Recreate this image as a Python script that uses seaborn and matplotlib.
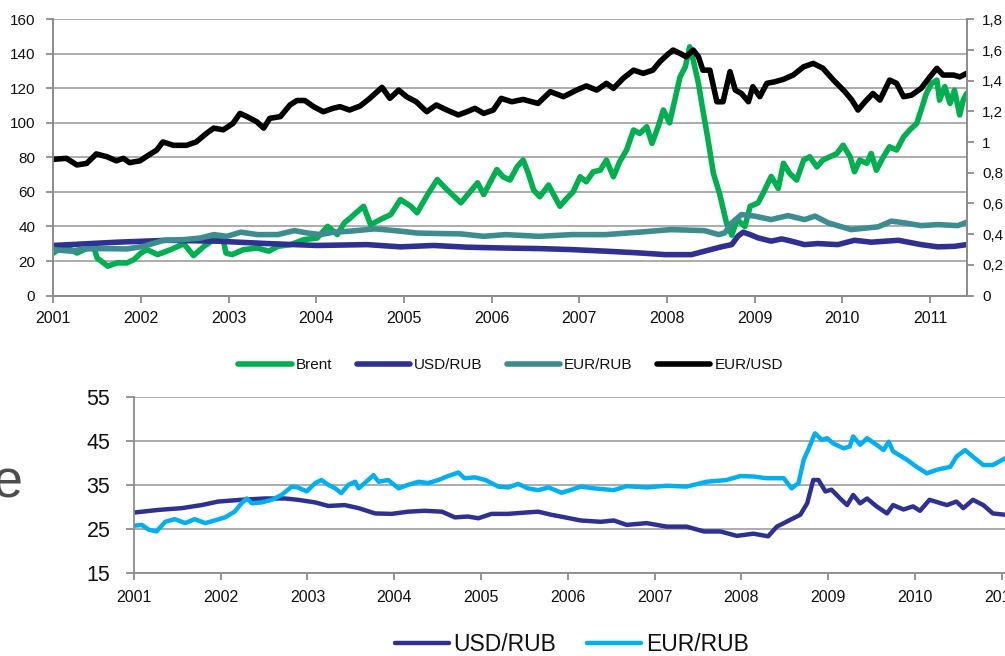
import numpy as np
import pandas as pd
import seaborn as sns
import matplotlib.pyplot as plt
from matplotlib.ticker import FuncFormatter

# ---- top panel data (decimal years) ----
brent_t = [2001.00, 2001.12, 2001.27, 2001.39, 2001.46, 2001.50, 2001.62, 2001.73, 2001.84, 2001.92,
           2002.00, 2002.07, 2002.19, 2002.34, 2002.49, 2002.60, 2002.72, 2002.83, 2002.93, 2002.97,
           2003.04, 2003.17, 2003.33, 2003.46, 2003.56, 2003.71, 2003.86, 2004.01, 2004.13, 2004.24,
           2004.32, 2004.39, 2004.43, 2004.54, 2004.62, 2004.73, 2004.85, 2004.96, 2005.08, 2005.15,
           2005.27, 2005.38, 2005.49, 2005.65, 2005.84, 2005.91, 2006.06, 2006.13, 2006.21, 2006.29,
           2006.36, 2006.42, 2006.48, 2006.55, 2006.65, 2006.70, 2006.78, 2006.84, 2006.93, 2007.01,
           2007.08, 2007.16, 2007.24, 2007.31, 2007.39, 2007.46, 2007.54, 2007.62, 2007.69, 2007.77,
           2007.83, 2007.90, 2007.96, 2008.03, 2008.09, 2008.15, 2008.21, 2008.26, 2008.30, 2008.36,
           2008.41, 2008.47, 2008.53, 2008.60, 2008.68, 2008.74, 2008.80, 2008.89, 2008.95, 2009.04,
           2009.10, 2009.19, 2009.27, 2009.33, 2009.40, 2009.48, 2009.56, 2009.63, 2009.71, 2009.78,
           2009.86, 2009.94, 2010.01, 2010.09, 2010.14, 2010.20, 2010.28, 2010.33, 2010.39, 2010.47,
           2010.54, 2010.62, 2010.70, 2010.77, 2010.85, 2010.90, 2010.96, 2011.02, 2011.08, 2011.11,
           2011.17, 2011.23, 2011.28, 2011.34, 2011.38, 2011.42]
brent = [24.5, 29.0, 24.6, 27.5, 28.5, 21.8, 17.0, 18.9, 18.9, 20.8,
         24.6, 26.6, 23.7, 26.6, 30.0, 23.1, 28.5, 32.4, 34.3, 24.6,
         23.7, 26.6, 27.5, 25.7, 28.5, 29.5, 32.4, 33.3, 40.1, 35.3,
         42.1, 45.0, 46.9, 51.7, 41.0, 44.0, 46.9, 55.6, 51.7, 47.9,
         58.5, 67.2, 61.4, 53.7, 65.3, 58.5, 73.0, 68.8, 66.9, 74.5,
         78.5, 70.7, 61.1, 57.2, 64.0, 59.2, 51.7, 55.3, 60.1, 68.8,
         65.9, 71.7, 72.6, 78.5, 68.8, 77.4, 84.3, 95.9, 93.9, 97.8,
         88.1, 97.8, 107.5, 100.0, 113.2, 126.7, 132.5, 144.1, 136.4, 122.9,
         107.5, 90.1, 70.8, 59.2, 42.0, 35.0, 44.0, 40.0, 51.7, 53.7,
         59.5, 69.0, 62.0, 76.6, 70.8, 66.9, 78.5, 80.4, 74.5, 78.5,
         80.4, 82.3, 87.1, 80.4, 71.7, 78.5, 76.6, 82.3, 72.6, 80.4,
         86.2, 84.3, 91.9, 95.9, 99.7, 107.5, 117.1, 122.9, 124.8, 113.2,
         121.0, 111.3, 119.0, 104.6, 113.2, 117.1]

usdrub_t = [2001.00, 2001.73, 2002.30, 2002.87, 2003.44, 2004.01, 2004.58, 2004.96, 2005.34, 2005.72,
            2006.16, 2006.54, 2006.92, 2007.30, 2007.68, 2007.98, 2008.28, 2008.43, 2008.62, 2008.74,
            2008.81, 2008.87, 2008.95, 2009.04, 2009.19, 2009.31, 2009.42, 2009.57, 2009.72, 2009.95,
            2010.14, 2010.33, 2010.64, 2010.90, 2011.09, 2011.28, 2011.42]
usdrub = [29.0, 30.9, 32.0, 31.5, 30.1, 29.0, 29.5, 28.2, 29.0, 28.0,
          27.5, 27.2, 26.6, 25.7, 24.7, 23.7, 23.7, 25.7, 28.2, 29.5,
          34.4, 36.7, 35.3, 33.4, 31.5, 32.8, 31.5, 29.5, 30.1, 29.5,
          32.0, 30.9, 32.0, 29.5, 28.2, 28.5, 29.5]

eurrub_t = [2001.00, 2001.20, 2001.35, 2001.54, 2001.84, 2002.03, 2002.26, 2002.49, 2002.68, 2002.83,
            2002.98, 2003.14, 2003.33, 2003.56, 2003.75, 2003.90, 2004.05, 2004.20, 2004.39, 2004.66,
            2004.77, 2004.96, 2005.15, 2005.42, 2005.65, 2005.91, 2006.16, 2006.54, 2006.92, 2007.30,
            2007.68, 2008.05, 2008.43, 2008.59, 2008.66, 2008.74, 2008.85, 2009.00, 2009.19, 2009.38,
            2009.57, 2009.69, 2009.84, 2010.10, 2010.41, 2010.56, 2010.71, 2010.90, 2011.09, 2011.32,
            2011.42]
eurrub = [26.6, 25.7, 27.0, 27.2, 27.0, 28.5, 32.0, 32.4, 33.3, 35.3,
          34.3, 36.7, 35.3, 35.3, 37.6, 36.2, 35.3, 36.7, 37.3, 38.6,
          38.2, 37.3, 36.2, 35.9, 35.7, 34.3, 35.3, 34.3, 35.3, 35.3,
          36.7, 38.2, 37.6, 35.3, 36.3, 42.1, 46.9, 46.0, 44.0, 46.3,
          44.0, 46.0, 42.1, 38.2, 39.8, 43.1, 42.1, 40.5, 41.1, 40.5,
          42.5]

eurusd_t = [2001.00, 2001.15, 2001.27, 2001.38, 2001.46, 2001.49, 2001.61, 2001.72, 2001.80, 2001.87,
            2001.99, 2002.06, 2002.18, 2002.25, 2002.37, 2002.52, 2002.63, 2002.75, 2002.83, 2002.94,
            2003.05, 2003.13, 2003.21, 2003.32, 2003.40, 2003.47, 2003.59, 2003.70, 2003.78, 2003.87,
            2003.97, 2004.08, 2004.19, 2004.27, 2004.38, 2004.50, 2004.61, 2004.75, 2004.84, 2004.94,
            2005.03, 2005.14, 2005.26, 2005.37, 2005.49, 2005.62, 2005.72, 2005.81, 2005.91, 2006.02,
            2006.11, 2006.23, 2006.36, 2006.53, 2006.67, 2006.82, 2006.97, 2007.08, 2007.20, 2007.31,
            2007.39, 2007.50, 2007.62, 2007.73, 2007.84, 2007.92, 2008.00, 2008.07, 2008.15, 2008.22,
            2008.30, 2008.36, 2008.41, 2008.49, 2008.57, 2008.64, 2008.72, 2008.78, 2008.85, 2008.93,
            2008.98, 2009.06, 2009.14, 2009.23, 2009.33, 2009.44, 2009.56, 2009.67, 2009.78, 2009.90,
            2010.03, 2010.11, 2010.18, 2010.26, 2010.35, 2010.43, 2010.54, 2010.62, 2010.70, 2010.79,
            2010.90, 2011.00, 2011.08, 2011.15, 2011.27, 2011.34, 2011.42]
eurusd = [0.888, 0.894, 0.851, 0.861, 0.905, 0.923, 0.905, 0.878, 0.894, 0.866,
          0.878, 0.905, 0.948, 1.001, 0.979, 0.979, 1.001, 1.058, 1.091, 1.080,
          1.122, 1.187, 1.166, 1.133, 1.091, 1.155, 1.166, 1.242, 1.271, 1.271,
          1.231, 1.198, 1.220, 1.231, 1.209, 1.235, 1.285, 1.357, 1.285, 1.339,
          1.296, 1.263, 1.198, 1.242, 1.209, 1.177, 1.198, 1.220, 1.187, 1.209,
          1.285, 1.263, 1.278, 1.252, 1.329, 1.296, 1.339, 1.366, 1.339, 1.383,
          1.350, 1.415, 1.469, 1.448, 1.469, 1.524, 1.567, 1.600, 1.578, 1.556,
          1.600, 1.556, 1.469, 1.469, 1.263, 1.263, 1.459, 1.339, 1.317, 1.263,
          1.361, 1.296, 1.383, 1.393, 1.409, 1.437, 1.491, 1.513, 1.481, 1.404,
          1.329, 1.274, 1.209, 1.263, 1.317, 1.274, 1.404, 1.383, 1.296, 1.306,
          1.350, 1.425, 1.481, 1.437, 1.437, 1.425, 1.448]

# ---- bottom panel data ----
b_usd_t = [2001.00, 2001.28, 2001.55, 2001.78, 2001.97, 2002.24, 2002.51, 2002.74, 2002.89, 2003.09,
           2003.24, 2003.43, 2003.59, 2003.78, 2003.97, 2004.16, 2004.35, 2004.55, 2004.70, 2004.85,
           2004.97, 2005.12, 2005.31, 2005.51, 2005.66, 2005.81, 2005.97, 2006.15, 2006.38, 2006.53,
           2006.68, 2006.91, 2007.14, 2007.37, 2007.57, 2007.76, 2007.95, 2008.14, 2008.31, 2008.41,
           2008.56, 2008.68, 2008.76, 2008.83, 2008.89, 2008.97, 2009.04, 2009.14, 2009.22, 2009.29,
           2009.37, 2009.45, 2009.56, 2009.68, 2009.75, 2009.87, 2009.98, 2010.06, 2010.17, 2010.37,
           2010.48, 2010.56, 2010.67, 2010.79, 2010.90, 2011.04, 2011.10]
b_usd = [28.8, 29.4, 29.8, 30.5, 31.3, 31.7, 32.0, 32.0, 31.7, 31.1,
         30.3, 30.5, 29.8, 28.6, 28.5, 29.0, 29.2, 29.0, 27.7, 27.9,
         27.5, 28.5, 28.5, 28.8, 29.0, 28.3, 27.7, 27.0, 26.7, 27.0,
         26.0, 26.4, 25.6, 25.6, 24.5, 24.5, 23.5, 24.0, 23.4, 25.6,
         27.1, 28.3, 30.9, 36.2, 36.2, 33.6, 34.0, 32.0, 30.5, 32.8,
         30.9, 32.0, 30.2, 28.6, 30.5, 29.5, 30.2, 29.2, 31.7, 30.5,
         31.3, 29.8, 31.7, 30.5, 28.6, 28.3, 28.2]

b_eur_t = [2001.00, 2001.09, 2001.17, 2001.26, 2001.36, 2001.47, 2001.59, 2001.70, 2001.82, 2001.93,
           2002.05, 2002.16, 2002.24, 2002.30, 2002.36, 2002.47, 2002.59, 2002.70, 2002.82, 2002.89,
           2002.99, 2003.09, 2003.16, 2003.24, 2003.32, 2003.39, 2003.47, 2003.55, 2003.59, 2003.66,
           2003.76, 2003.82, 2003.93, 2004.05, 2004.16, 2004.28, 2004.39, 2004.51, 2004.62, 2004.74,
           2004.81, 2004.93, 2005.05, 2005.20, 2005.31, 2005.43, 2005.54, 2005.66, 2005.78, 2005.93,
           2006.03, 2006.15, 2006.30, 2006.53, 2006.68, 2006.91, 2007.14, 2007.37, 2007.60, 2007.83,
           2007.99, 2008.14, 2008.29, 2008.49, 2008.58, 2008.66, 2008.72, 2008.77, 2008.85, 2008.93,
           2008.99, 2009.06, 2009.18, 2009.25, 2009.29, 2009.37, 2009.45, 2009.56, 2009.64, 2009.70,
           2009.75, 2009.91, 2010.02, 2010.14, 2010.25, 2010.41, 2010.48, 2010.58, 2010.67, 2010.79,
           2010.90, 2011.04, 2011.10]
b_eur = [25.8, 26.0, 24.9, 24.5, 26.7, 27.3, 26.4, 27.3, 26.4, 27.0,
         27.7, 29.0, 30.9, 32.0, 30.9, 31.1, 31.7, 32.8, 34.7, 34.5,
         33.6, 35.5, 36.2, 35.1, 34.3, 33.2, 35.1, 35.8, 34.3, 35.5,
         37.3, 35.8, 36.2, 34.3, 35.1, 35.8, 35.5, 36.2, 37.1, 37.9,
         36.6, 36.8, 36.2, 34.7, 34.5, 35.3, 34.3, 33.9, 34.5, 33.3,
         33.9, 34.7, 34.3, 33.9, 34.8, 34.5, 34.9, 34.7, 35.8, 36.2,
         37.1, 37.0, 36.6, 36.6, 34.3, 35.5, 40.8, 43.0, 46.8, 45.3,
         45.7, 44.5, 43.4, 43.8, 46.1, 44.2, 45.7, 44.2, 43.0, 44.9,
         42.7, 40.8, 39.2, 37.7, 38.5, 39.2, 41.5, 43.0, 41.5, 39.6,
         39.6, 41.1, 41.3]

years = list(range(2001, 2012))
left_ticks = list(range(0, 161, 20))
right_ticks = [0, 0.2, 0.4, 0.6, 0.8, 1.0, 1.2, 1.4, 1.6, 1.8]
bottom_ticks = [15, 25, 35, 45, 55]

sns.set_style("white")
plt.rcParams['font.family'] = ['Liberation Sans', 'DejaVu Sans']

GRID = '#a6a6a6'
SPINE = '#8c8c8c'
TXT = '#111111'

fig = plt.figure(figsize=(10.05, 6.56), dpi=100)

# ---------- top panel ----------
ax = fig.add_axes([0.0530, 0.5495, 0.9089, 0.4210])
ax2 = ax.twinx()

lw = 4.0
sns.lineplot(x=brent_t, y=brent, ax=ax, color='#00b050', linewidth=lw, label='Brent',
             legend=False, estimator=None, sort=False, solid_joinstyle='round')
sns.lineplot(x=usdrub_t, y=usdrub, ax=ax, color='#2e3192', linewidth=lw, label='USD/RUB',
             legend=False, estimator=None, sort=False, solid_joinstyle='round')
sns.lineplot(x=eurrub_t, y=eurrub, ax=ax, color='#3d8c90', linewidth=lw, label='EUR/RUB',
             legend=False, estimator=None, sort=False, solid_joinstyle='round')
sns.lineplot(x=eurusd_t, y=eurusd, ax=ax2, color='black', linewidth=lw, label='EUR/USD',
             legend=False, estimator=None, sort=False, solid_joinstyle='round')

ax.set_xlim(2001, 2011.42)
ax.set_ylim(0, 160)
ax2.set_ylim(0, 1.8)
ax.set_xticks(years)
ax.set_xticklabels([str(y) for y in years])
ax.set_yticks(left_ticks)
ax2.set_yticks(right_ticks)
ax2.yaxis.set_major_formatter(FuncFormatter(lambda v, p: ('%g' % round(v, 1)).replace('.', ',')))
ax.set_xlabel('')
ax.set_ylabel('')
ax2.set_ylabel('')

ax.set_axisbelow(True)
ax.yaxis.grid(True, color=GRID, linewidth=1.3)
ax.xaxis.grid(False)
ax2.grid(False)
for a in (ax, ax2):
    for s in ['left', 'right', 'bottom']:
        a.spines[s].set_color(SPINE)
        a.spines[s].set_linewidth(1.3)
    a.spines['top'].set_visible(False)
ax.tick_params(axis='y', direction='out', length=5, width=1.3, color=SPINE, pad=8,
               labelsize=11, labelcolor=TXT, left=True)
ax.tick_params(axis='x', direction='out', length=5, width=1.3, color=SPINE, pad=6,
               labelsize=11.5, labelcolor=TXT, bottom=True)
ax2.tick_params(axis='y', direction='out', length=5, width=1.3, color=SPINE, pad=6,
                labelsize=11, labelcolor=TXT, right=True)

h1, l1 = ax.get_legend_handles_labels()
h2, l2 = ax2.get_legend_handles_labels()
fig.legend(h1 + h2, l1 + l2, loc='center', bbox_to_anchor=(0.508, 0.4436), ncol=4,
           frameon=False, fontsize=11, handlelength=3.5, handletextpad=0.25,
           columnspacing=1.6, labelcolor=TXT)

# ---------- bottom panel ----------
axb = fig.add_axes([0.1333, 0.1261, 0.8995, 0.2683])
sns.lineplot(x=b_usd_t, y=b_usd, ax=axb, color='#2e3192', linewidth=3.2, label='USD/RUB',
             legend=False, estimator=None, sort=False, solid_joinstyle='round')
sns.lineplot(x=b_eur_t, y=b_eur, ax=axb, color='#00b0f0', linewidth=3.2, label='EUR/RUB',
             legend=False, estimator=None, sort=False, solid_joinstyle='round')
axb.set_xlim(2001, 2011.42)
axb.set_ylim(15, 55)
axb.set_xticks(years)
axb.set_xticklabels([str(y) for y in years])
axb.set_yticks(bottom_ticks)
axb.set_xlabel('')
axb.set_ylabel('')
axb.set_axisbelow(True)
axb.yaxis.grid(True, color=GRID, linewidth=1.3)
axb.xaxis.grid(False)
for s in ['left', 'bottom']:
    axb.spines[s].set_color(SPINE)
    axb.spines[s].set_linewidth(1.3)
axb.spines['top'].set_visible(False)
axb.spines['right'].set_visible(False)
axb.tick_params(axis='y', direction='out', length=6, width=1.3, color=SPINE, pad=11,
                labelsize=15.5, labelcolor=TXT, left=True)
axb.tick_params(axis='x', direction='out', length=5, width=1.3, color=SPINE, pad=7,
                labelsize=11.5, labelcolor=TXT, bottom=True)

hb, lb = axb.get_legend_handles_labels()
fig.legend(hb, lb, loc='center', bbox_to_anchor=(0.569, 0.0168), ncol=2,
           frameon=False, fontsize=16.5, handlelength=2.36, handletextpad=0.2,
           columnspacing=1.35, labelcolor=TXT)

# cropped letter at the left edge
fig.text(23 / 1005, 1 - 497 / 656, 'e', ha='right', va='baseline', fontsize=39,
         color='#4d4d4d', family=['Liberation Sans', 'DejaVu Sans'])

fig.savefig('out.png', dpi=100)
